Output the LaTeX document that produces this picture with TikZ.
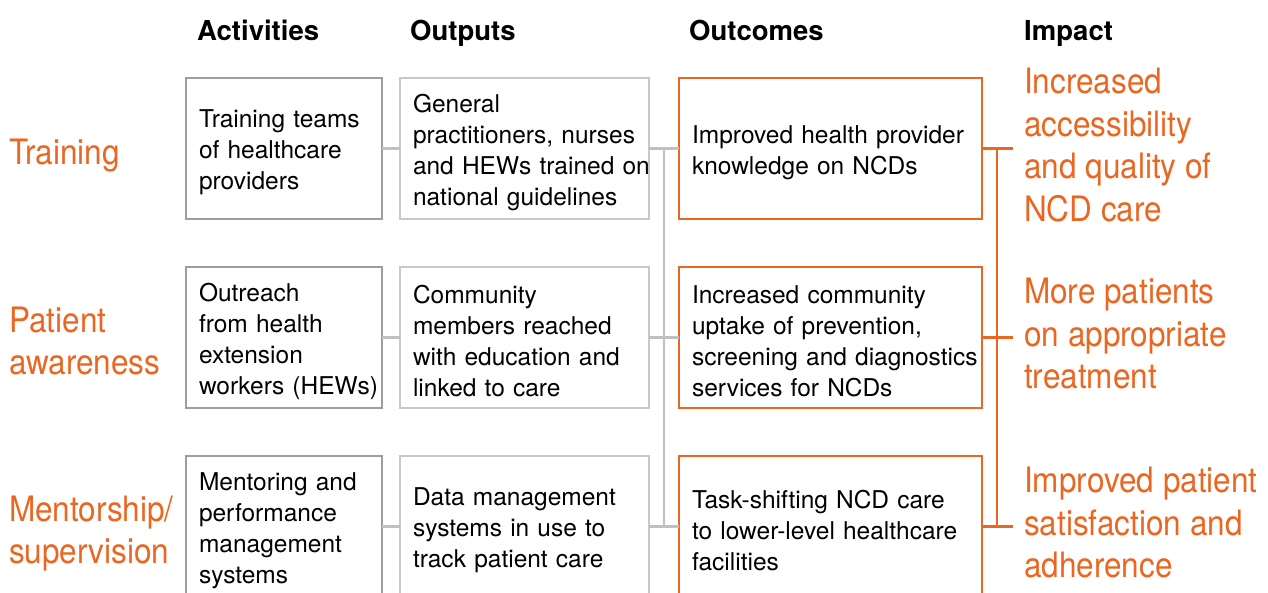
\documentclass[tikz,border=0pt]{standalone}
\usepackage{fontspec}
\setmainfont{TeX Gyre Heros}
\newfontfamily\thinfont{TeX Gyre Heros}[FakeStretch=0.9]
\usetikzlibrary{positioning}
\definecolor{ncdorange}{RGB}{234,102,33}
\definecolor{actgray}{RGB}{158,158,158}
\definecolor{outgray}{RGB}{200,200,200}
\definecolor{linkgray}{RGB}{192,192,192}

\begin{document}
\begin{tikzpicture}[x=1pt,y=-1pt,node distance=48pt,
    box/.style={rectangle,line width=2.5pt,outer sep=0pt,minimum height=141pt,
        inner xsep=13pt,align=left,font=\fontsize{24.5}{31}\selectfont,
        execute at begin node={\rule{0pt}{26pt}}},
    act/.style={box,draw=actgray,text width=170pt},
    outp/.style={box,draw=outgray,text width=223pt},
    outc/.style={box,draw=ncdorange,text width=277pt},
    head/.style={anchor=base west,inner sep=0pt,font=\fontsize{27.5}{33}\selectfont\bfseries},
    big/.style={anchor=west,inner sep=0pt,text depth=0pt,align=left,text=ncdorange,
        font=\thinfont\fontsize{35}{42.5}\selectfont},
    link/.style={draw=linkgray,line width=2.5pt},
    imp/.style={draw=ncdorange,line width=2.5pt}]
    \useasboundingbox (0,0) rectangle (1268,592);

    \node[act]  (a1) at (284,148.5)      {Training teams\\of healthcare\\providers};
    \node[act]  (a2) [below=of a1]       {Outreach\\from health\\extension\\\mbox{workers (HEWs)}};
    \node[act]  (a3) [below=of a2]       {Mentoring and\\performance\\management\\systems};
    \node[outp] (o1) [right=18pt of a1]  {General\\practitioners, nurses\\\mbox{and HEWs trained on}\\national guidelines};
    \node[outp] (o2) [right=18pt of a2]  {Community\\members reached\\with education and\\linked to care};
    \node[outp] (o3) [right=18pt of a3]  {Data management\\systems in use to\\track patient care};
    \node[outc] (c1) [right=30pt of o1]  {Improved health provider\\knowledge on NCDs};
    \node[outc] (c2) [right=30pt of o2]  {Increased community\\uptake of prevention,\\\mbox{screening and diagnostics}\\services for NCDs};
    \node[outc] (c3) [right=30pt of o3]  {Task-shifting NCD care\\to lower-level healthcare\\facilities};

    \node[big,yshift=4pt] (i1) at ([xshift=42pt]c1.east) {Increased\\accessibility\\and quality of\\NCD care};
    \node[big,yshift=4pt] (i2) at ([xshift=42pt]c2.east) {More patients\\on appropriate\\treatment};
    \node[big,yshift=4pt] (i3) at ([xshift=42pt]c3.east) {Improved patient\\satisfaction and\\adherence};

    \coordinate (lm) at (9,0);
    \node[big,yshift=-3pt] (s1) at (lm |- a1) {Training};
    \node[big,yshift=-3pt] (s2) at (lm |- a2) {Patient\\awareness};
    \node[big,yshift=-3pt] (s3) at (lm |- a3) {Mentorship/\\supervision};

    \node[head] (hAct) at ([xshift=11pt,yshift=38pt]a1.north west) {Activities};
    \node[head] (hOut) at ([xshift=10pt,yshift=38pt]o1.north west) {Outputs};
    \node[head] (hOcm) at ([xshift=10pt,yshift=38pt]c1.north west) {Outcomes};
    \node[head] (hImp) at (i1.west |- hAct.base) {Impact};

    \path[link] (a1) edge (o1)  (a2) edge (o2)  (a3) edge (o3)
                (o1) edge (c1)  (o2) edge (c2)  (o3) edge (c3);
    \draw[link] ([xshift=15pt]o1.east) -- ([xshift=15pt]o3.east);

    \coordinate (t1) at ([xshift=31pt]c1.east);
    \coordinate (t2) at ([xshift=31pt]c2.east);
    \coordinate (t3) at ([xshift=31pt]c3.east);
    \path[imp] (c1) edge (t1)  (c2) edge (t2)  (c3) edge (t3);
    \draw[imp] ([xshift=15pt]c1.east) -- ([xshift=15pt]c3.east);
\end{tikzpicture}
\end{document}
